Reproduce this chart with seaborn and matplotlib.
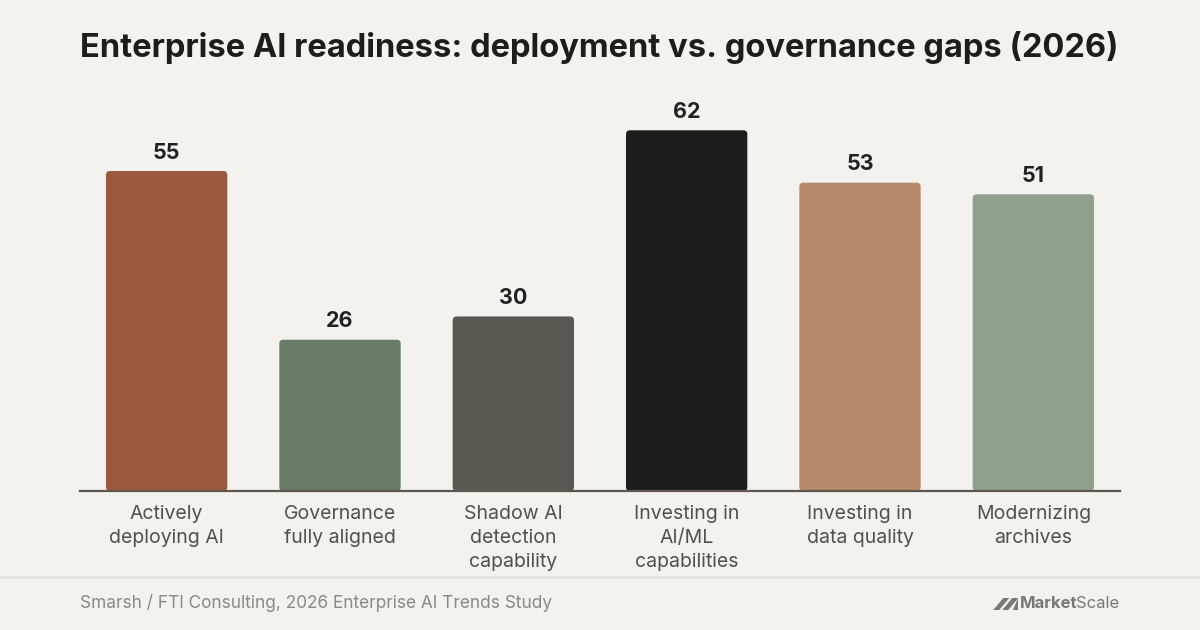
import matplotlib
matplotlib.use("Agg")
import matplotlib.pyplot as plt
from matplotlib.patches import FancyBboxPatch, Polygon
import seaborn as sns
import pandas as pd

categories = ["Actively\ndeploying AI", "Governance\nfully aligned", "Shadow AI\ndetection\ncapability",
              "Investing in\nAI/ML\ncapabilities", "Investing in\ndata quality", "Modernizing\narchives"]
values = [55, 26, 30, 62, 53, 51]
colors = ["#9A593C", "#6A7A68", "#5C5750", "#1D1D1B", "#B88A6C", "#8FA18D"]
title = "Enterprise AI readiness: deployment vs. governance gaps (2026)"
source = "Smarsh / FTI Consulting, 2026 Enterprise AI Trends Study"

BG = "#F4F2EE"
sns.set_theme(style="white")
plt.rcParams["font.family"] = ["Inter", "DejaVu Sans"]

df = pd.DataFrame({"cat": categories, "val": values})

fig = plt.figure(figsize=(12, 6.3), dpi=100, facecolor=BG)
W, H = 1200, 630
ax_left, ax_right = 80, 1120
ax_bottom, ax_top = 491, 100
ax = fig.add_axes([ax_left / W, 1 - ax_bottom / H, (ax_right - ax_left) / W, (ax_bottom - ax_top) / H])
ax.set_facecolor(BG)

sns.barplot(data=df, x="cat", y="val", hue="cat", palette=colors, legend=False, width=0.7,
            saturation=1, ax=ax)
ymax = (ax_bottom - ax_top) / 5.818
ax.set_ylim(0, ymax)
ax.set_xlim(-0.5, len(categories) - 0.5)

# rounded corners
px_x = (ax_right - ax_left) / len(categories)
px_y = (ax_bottom - ax_top) / ymax
rad = 4 / px_x
aspect = px_x / px_y
for p in list(ax.patches):
    x, y, w, h = p.get_x(), p.get_y(), p.get_width(), p.get_height()
    fc = p.get_facecolor()
    p.remove()
    ax.add_patch(FancyBboxPatch((x, y), w, h, boxstyle=f"round,pad=0,rounding_size={rad}",
                                mutation_aspect=aspect, facecolor=fc, edgecolor="none", zorder=2))

for i, v in enumerate(values):
    ax.annotate(f"{v}", (i, v), xytext=(0, 6), textcoords="offset points", ha="center", va="bottom",
                fontsize=15.5, fontweight="bold", color="#222222")

for s in ["top", "right", "left"]:
    ax.spines[s].set_visible(False)
ax.spines["bottom"].set_color("#5C5750")
ax.spines["bottom"].set_linewidth(1.6)
ax.spines["bottom"].set_zorder(3)
ax.set_yticks([])
ax.set_xlabel("")
ax.set_ylabel("")
ax.tick_params(axis="x", length=0, pad=10, labelsize=14, labelcolor="#52504C")
for t in ax.get_xticklabels():
    t.set_linespacing(1.45)

fig.text(80 / W, 1 - 48 / H, title, ha="left", va="center", fontsize=23.5, fontweight="bold",
         color="#1D1D1B")

fig.add_artist(plt.Line2D([0, 1], [1 - 577 / H] * 2, color="#E5E3DE", linewidth=2, transform=fig.transFigure))
fig.text(80 / W, 1 - 603 / H, source, ha="left", va="center", fontsize=12.4, color="#8A8886")

# logo
fig.text(1119 / W, 1 - 604 / H, "Scale", ha="right", va="center", fontsize=12, color="#7A7876")
t_scale = fig.texts[-1]
fig.canvas.draw()
bb = t_scale.get_window_extent()
fig.text((bb.x0 + 2) / W, 1 - 604 / H, "Market", ha="right", va="center", fontsize=12,
         fontweight="bold", color="#7A7876")
fig.canvas.draw()
bb2 = fig.texts[-1].get_window_extent()
x1 = bb2.x0 - 1
yb, yt = 1 - 610 / H, 1 - 598 / H
def P(xs, ys):
    return Polygon(list(zip([x / W for x in xs], ys)), closed=True, transform=fig.transFigure,
                   facecolor="#7A7876", edgecolor="none")
fig.add_artist(P([x1 - 26, x1 - 20, x1 - 10, x1 - 16], [yb, yb, yt, yt]))
fig.add_artist(P([x1 - 17, x1 - 11, x1 - 1, x1 - 7], [yb, yb, yt, yt]))
fig.add_artist(P([x1 - 6, x1 - 1, x1 - 1], [yb, yb, yt]))

fig.savefig("out.png", dpi=100, facecolor=BG)
